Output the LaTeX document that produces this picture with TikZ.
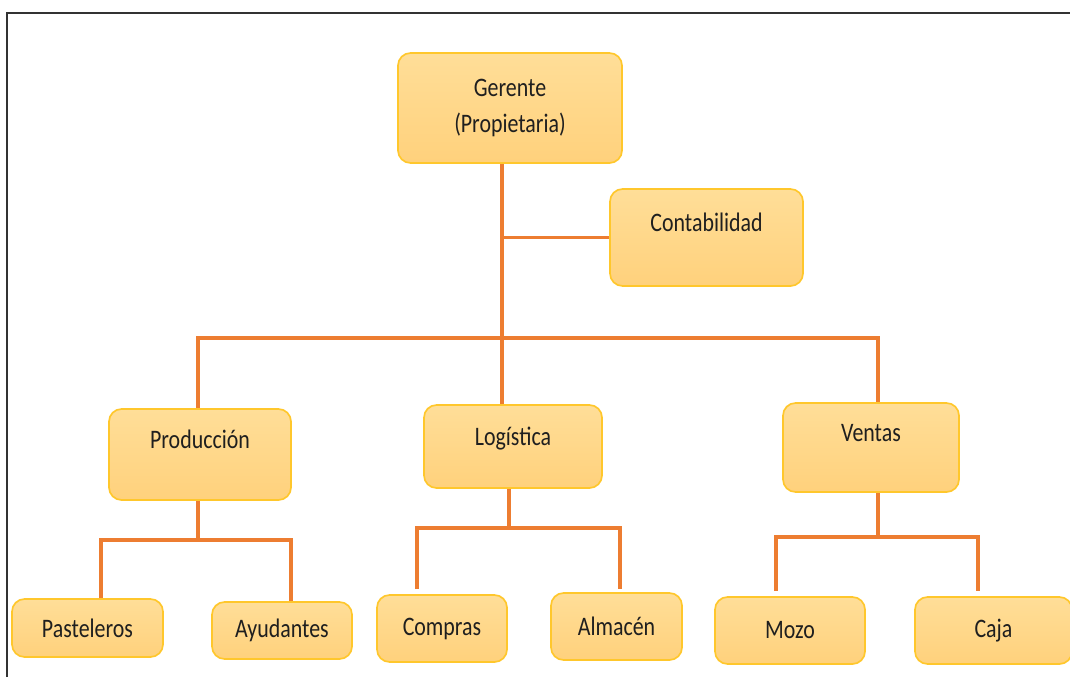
\documentclass[tikz,border=0pt]{standalone}
\usepackage{fontspec}
\setmainfont{Carlito}[FakeStretch=0.82]
\usepackage{tikz}

\definecolor{naranja}{HTML}{ED7D31}
\definecolor{dorado}{HTML}{FFC72C}
\definecolor{cremaA}{HTML}{FFDE98}
\definecolor{cremaB}{HTML}{FFD17C}

\tikzset{
	caja/.style={draw=dorado, line width=1.2pt, rounded corners=9pt,
		top color=cremaA, bottom color=cremaB, inner sep=0pt,
		text=black!88, font=\fontsize{19}{26}\selectfont, align=center},
	linea/.style={draw=naranja, line width=2.3pt}
}

\begin{document}
\begin{tikzpicture}[x=0.025cm, y=-0.025cm]
				\useasboundingbox (0,0) rectangle (1070,677);
				% Marco
				\draw[black!80, line width=1.5pt] (7,677) -- (7,13) -- (1070,13);

				% Cajas
				\node[caja, minimum width=5.6cm, minimum height=2.75cm] (ger) at (510,108) {Gerente\\(Propietaria)};
				\node[caja, minimum width=4.825cm, text height=1.05cm, text depth=1.375cm] (cont) at (706.5,237.5) {Contabilidad};
				\node[caja, minimum width=4.55cm, text height=0.975cm, text depth=1.3cm] (prod) at (200,454.5) {Producción};
				\node[caja, minimum width=4.45cm, text height=1cm, text depth=1.075cm] (log) at (513,446.5) {Logística};
				\node[caja, minimum width=4.4cm, text height=0.95cm, text depth=1.275cm] (ven) at (871,447.5) {Ventas};
				\node[caja, minimum width=3.775cm, minimum height=1.45cm] (pas) at (87.5,628) {Pasteleros};
				\node[caja, minimum width=3.5cm, minimum height=1.425cm] (ayu) at (282,630.5) {Ayudantes};
				\node[caja, minimum width=3.25cm, minimum height=1.675cm] (com) at (442,628.5) {Compras};
				\node[caja, minimum width=3.275cm, minimum height=1.675cm] (alm) at (616.5,626.5) {Almacén};
				\node[caja, minimum width=3.75cm, minimum height=1.675cm] (moz) at (790,630.5) {Mozo};
				\node[caja, minimum width=3.925cm, minimum height=1.675cm] (caj) at (993.5,630.5) {Caja};

				% Puntos de las lineas
				\coordinate (tronco) at (502,338);
				\coordinate (busP) at (198,338);
				\coordinate (busV) at (878,338);
				\coordinate (bP) at (198,540);
				\coordinate (bPa) at (101,540);
				\coordinate (bAy) at (291,540);
				\coordinate (bL) at (509,528);
				\coordinate (bCo) at (417,528);
				\coordinate (bAl) at (620,528);
				\coordinate (bV) at (878,537);
				\coordinate (bMo) at (776,537);
				\coordinate (bCa) at (978,537);

				% Lineas
				\draw[linea] (ger.south -| tronco) -- (tronco);
				\draw[linea] (cont.west) -- (cont.west -| tronco);
				\draw[linea] (prod.north -| busP) -- (busP) -- (busV) -- (ven.north -| busV);
				\draw[linea] (tronco) -- (log.north -| tronco);
				\draw[linea] (prod.south -| bP) -- (bP);
				\draw[linea] (pas.north -| bPa) -- (bPa) -- (bAy) -- (ayu.north -| bAy);
				\draw[linea] (log.south -| bL) -- (bL);
				\draw[linea, shorten <=3.5pt, shorten >=2pt] (com.north -| bCo) -- (bCo) -- (bAl) -- (alm.north -| bAl);
				\draw[linea] (ven.south -| bV) -- (bV);
				\draw[linea, shorten <=3.5pt, shorten >=3.5pt] (moz.north -| bMo) -- (bMo) -- (bCa) -- (caj.north -| bCa);
\end{tikzpicture}
\end{document}
